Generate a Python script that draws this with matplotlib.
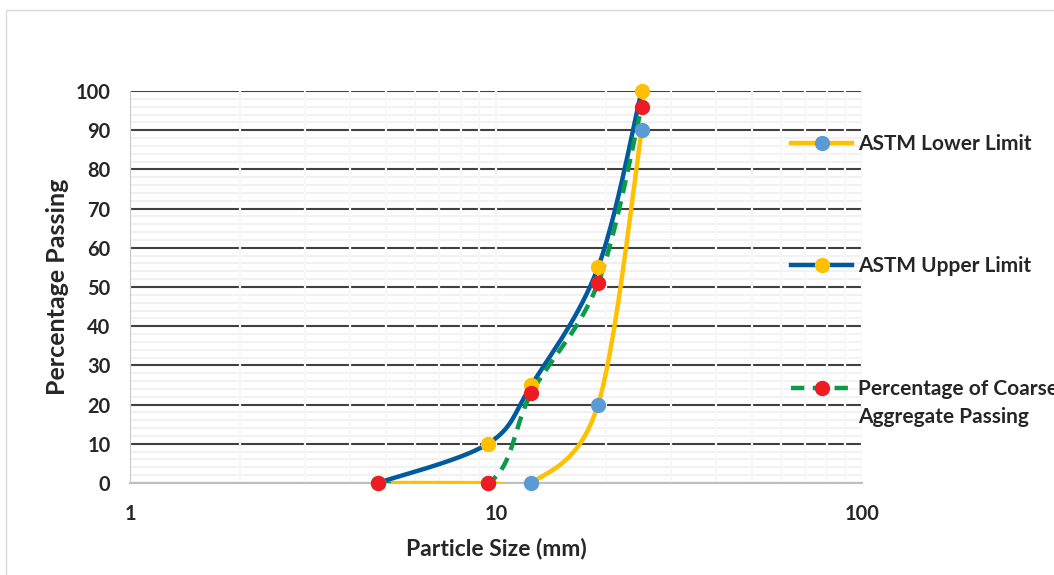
import numpy as np
import matplotlib
matplotlib.use("Agg")
import matplotlib.pyplot as plt
from matplotlib.patches import Rectangle
from matplotlib.ticker import FixedLocator, FixedFormatter, NullFormatter

# sieve sizes (mm) and percentage passing
sizes = [4.75, 9.5, 12.5, 19.0, 25.0]
lower = [0, 0, 0, 20, 90]
upper = [0, 10, 25, 55, 100]
coarse = [0, 0, 23, 51, 96]

labels = ["ASTM Lower Limit", "ASTM Upper Limit", "Percentage of Coarse"]
label_extra = "Aggregate Passing"


def smooth(xs, ys, n=60):
    # excel-like smoothed line (bezier through points), done in log-x space
    p = np.column_stack([np.log10(xs), np.asarray(ys, float)])
    out = []
    for i in range(len(p) - 1):
        p0 = p[max(i - 1, 0)]
        p1 = p[i]
        p2 = p[i + 1]
        p3 = p[min(i + 2, len(p) - 1)]
        c1 = p1 + (p2 - p0) / 6
        c2 = p2 - (p3 - p1) / 6
        t = np.linspace(0, 1, n)[:, None]
        seg = (1 - t)**3 * p1 + 3 * (1 - t)**2 * t * c1 + 3 * (1 - t) * t**2 * c2 + t**3 * p2
        out.append(seg if i == 0 else seg[1:])
    out = np.vstack(out)
    return 10**out[:, 0], out[:, 1]


def main():
    plt.rcParams["font.family"] = ["Lato", "DejaVu Sans"]
    plt.rcParams["font.weight"] = "bold"
    txt = "#262626"

    fig = plt.figure(figsize=(10.54, 5.75), dpi=100)
    fig.patches.append(Rectangle((6 / 1054, -0.1), 1.2, 1.1 - 10 / 575, transform=fig.transFigure,
                                 fill=False, edgecolor="#d9d9d9", lw=1))
    ax = fig.add_axes([130 / 1054, 1 - 483 / 575, 732 / 1054, 392 / 575])

    ax.set_xscale("log")
    ax.set_xlim(1, 100)
    ax.set_ylim(0, 100)

    ax.yaxis.set_major_locator(FixedLocator(np.arange(0, 101, 10)))
    ax.yaxis.set_minor_locator(FixedLocator(np.arange(0, 101, 2)))
    ax.xaxis.set_major_locator(FixedLocator([1, 10, 100]))
    ax.xaxis.set_major_formatter(FixedFormatter(["1", "10", "100"]))
    ax.xaxis.set_minor_locator(FixedLocator([k * 10**d for d in range(2) for k in range(2, 10)]))
    ax.xaxis.set_minor_formatter(NullFormatter())

    ax.grid(axis="y", which="minor", color="#efefef", lw=1.2)
    ax.grid(axis="y", which="major", color="#404040", lw=1.5)
    ax.grid(axis="x", which="both", color="#f7f7f7", lw=1.6)
    ax.yaxis.set_zorder(0.5)
    ax.xaxis.set_zorder(0.6)

    for s in ["top", "right"]:
        ax.spines[s].set_visible(False)
    ax.spines["left"].set_color("#c8c8c8")
    ax.spines["bottom"].set_color("#bfbfbf")
    ax.spines["bottom"].set_linewidth(1.5)
    ax.spines["bottom"].set_zorder(1)
    ax.tick_params(which="both", length=0, labelsize=14.4, colors=txt)
    ax.tick_params(axis="y", pad=14)
    ax.tick_params(axis="x", pad=15)

    yellow = "#FFC000"
    dblue = "#005A9E"
    lblue = "#5B9BD5"
    green = "#0A9A48"
    red = "#ED1C24"
    lw = 3.2
    ms = 10
    dash = (0, (3, 1.9))

    handles = []
    sx, sy = smooth(sizes, lower)
    ax.plot(sx, sy, color=yellow, lw=lw, solid_capstyle="round", zorder=2)
    ax.plot(sizes, lower, ls="none", marker="o", ms=ms, color=lblue, clip_on=False, zorder=3)
    handles.append(plt.Line2D([], [], color=yellow, lw=lw, marker="o", ms=ms, mfc=lblue, mec=lblue))

    sx, sy = smooth(sizes, upper)
    ax.plot(sx, sy, color=dblue, lw=lw, solid_capstyle="round", zorder=2)
    ax.plot(sizes, upper, ls="none", marker="o", ms=ms, color=yellow, clip_on=False, zorder=3)
    handles.append(plt.Line2D([], [], color=dblue, lw=lw, marker="o", ms=ms, mfc=yellow, mec=yellow))

    sx, sy = smooth(sizes, coarse)
    ax.plot(sx, sy, color=green, lw=lw, ls=dash, zorder=2)
    ax.plot(sizes, coarse, ls="none", marker="o", ms=ms, color=red, clip_on=False, zorder=3)
    handles.append(plt.Line2D([], [], color=green, lw=lw, ls=dash, marker="o", ms=ms, mfc=red, mec=red))

    ax.set_xlabel("Particle Size (mm)", fontsize=16.5, fontweight="bold", color=txt, labelpad=10)
    ax.set_ylabel("Percentage Passing", fontsize=18, fontweight="bold", color=txt, labelpad=5)

    leg = fig.legend(handles, labels, loc="upper left", bbox_to_anchor=(791 / 1054, 1 - 134 / 575),
                     frameon=False, prop={"size": 15, "weight": "bold"}, handlelength=2.95,
                     handletextpad=0.25, labelspacing=4.92, borderpad=0, borderaxespad=0)
    for t in leg.get_texts():
        t.set_color(txt)

    # second line of the last legend label, placed just under it
    fig.canvas.draw()
    bb = leg.get_texts()[-1].get_window_extent()
    fig.text(bb.x0 / fig.bbox.width, (bb.y0 - 28) / fig.bbox.height, label_extra,
             fontsize=15, fontweight="bold", color=txt, va="bottom", ha="left")

    fig.savefig("out.png", dpi=100)
    plt.close()


if __name__ == "__main__":
    main()
